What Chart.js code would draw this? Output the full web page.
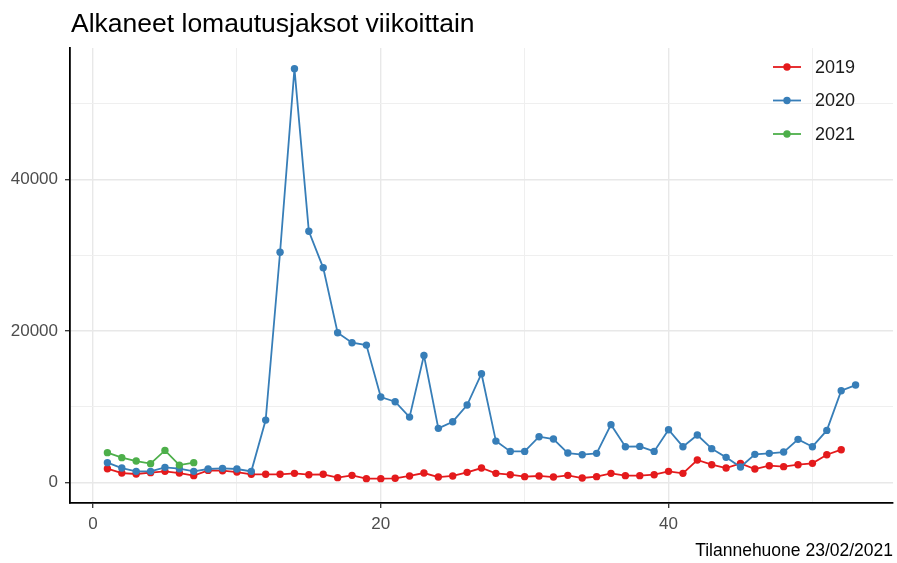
<!DOCTYPE html>
<html>
<head>
<meta charset="utf-8">
<script src="https://cdn.jsdelivr.net/npm/chart.js@4"></script>
<style>
  body { margin: 0; background: #fff; }
</style>
</head>
<body>
<canvas id="lomautukset" width="897" height="563"></canvas>
<script>
const weeks = [1, 2, 3, 4, 5, 6, 7, 8, 9, 10, 11, 12, 13, 14, 15, 16, 17, 18, 19, 20,
    21, 22, 23, 24, 25, 26, 27, 28, 29, 30, 31, 32, 33, 34, 35, 36, 37, 38, 39, 40,
    41, 42, 43, 44, 45, 46, 47, 48, 49, 50, 51, 52, 53];

const years = ['2019', '2020', '2021'];

const values2019 = [1800, 1230, 1100, 1280, 1450, 1230, 880, 1580, 1540, 1360,
    1060, 1060, 1060, 1190, 1010, 1060, 620, 920, 490, 490,
    530, 840, 1230, 700, 840, 1320, 1890, 1190, 1010, 750,
    840, 700, 920, 570, 750, 1190, 880, 880, 1010, 1450,
    1190, 2950, 2330, 1890, 2510, 1760, 2200, 2070, 2330, 2510,
    3650, 4310];

const values2020 = [2600, 1890, 1450, 1450, 1980, 1800, 1450, 1760, 1850, 1760,
    1450, 8220, 30400, 54650, 33170, 28340, 19760, 18440, 18130, 11270,
    10650, 8620, 16770, 7130, 8010, 10210, 14350, 5450, 4090, 4090,
    6030, 5720, 3870, 3650, 3830, 7620, 4710, 4750, 4090, 6950,
    4710, 6250, 4450, 3300, 2020, 3700, 3830, 4000, 5680, 4710,
    6860, 12100, 12850];

const values2021 = [3920, 3260, 2810, 2470, 4220, 2280, 2600];

// major ticks carry labels, minor ones only a grid line
const yTicks = [0, 10000, 20000, 30000, 40000, 50000];
const yTicksShown = [0, 20000, 40000];
const xTicks = [0, 10, 20, 30, 40, 50];
const xTicksShown = [0, 20, 40];

const colors = ['#E41A1C', '#377EB8', '#4DAF4A'];
const FONT = '"Liberation Sans", Arial, sans-serif';

function toPoints(vals) {
    return vals.map((v, i) => ({ x: weeks[i], y: v }));
}

const series = [values2019, values2020, values2021];

const data_chart = {
    datasets: series.map((vals, i) => ({
        label: years[i],
        data: toPoints(vals),
        borderColor: colors[i],
        backgroundColor: colors[i],
        pointBackgroundColor: colors[i],
        pointBorderWidth: 0,
        pointRadius: 3.7,
        borderWidth: 1.8,
        tension: 0,
        order: 3 - i,
    })),
};

// title, caption and the legend inside the panel
const extras = {
    id: 'extras',
    afterDraw(chart) {
        const ctx = chart.ctx;
        ctx.save();
        ctx.fillStyle = '#000';
        ctx.textBaseline = 'alphabetic';
        ctx.textAlign = 'left';
        ctx.font = '26.5px ' + FONT;
        ctx.fillText('Alkaneet lomautusjaksot viikoittain', 71, 31.7);

        ctx.textAlign = 'right';
        ctx.font = '17.5px ' + FONT;
        ctx.fillText('Tilannehuone 23/02/2021', 893, 556);

        ctx.textAlign = 'left';
        ctx.textBaseline = 'middle';
        ctx.font = '18px ' + FONT;
        years.forEach((y, i) => {
            const cy = 67 + i * 33.5;
            ctx.strokeStyle = colors[i];
            ctx.lineWidth = 1.8;
            ctx.beginPath();
            ctx.moveTo(773, cy);
            ctx.lineTo(801, cy);
            ctx.stroke();
            ctx.fillStyle = colors[i];
            ctx.beginPath();
            ctx.arc(787, cy, 3.7, 0, Math.PI * 2);
            ctx.fill();
            ctx.fillStyle = '#1a1a1a';
            ctx.fillText(y, 815, cy + 1);
        });
        ctx.restore();
    }
};

const tickFont = { family: FONT, size: 17 };

function gridOpts(shown) {
    const major = c => c.tick && shown.includes(c.tick.value);
    return {
        color: c => major(c) ? '#e8e8e8' : '#efefef',
        lineWidth: c => major(c) ? 1.4 : 1,
        drawTicks: true,
        tickLength: 5,
        tickWidth: 1.3,
        tickColor: c => major(c) ? '#333' : 'rgba(0,0,0,0)',
    };
}

const config = {
    type: 'line',
    data: data_chart,
    options: {
        responsive: false,
        animation: false,
        layout: { padding: { top: 48, right: 2, left: 0, bottom: 0 } },
        scales: {
            x: {
                type: 'linear',
                min: -1.6,
                max: 55.6,
                afterFit: s => { s.height = 60; },
                afterBuildTicks: s => { s.ticks = xTicks.map(v => ({ value: v })); },
                border: { display: true, color: '#000', width: 1.8 },
                grid: gridOpts(xTicksShown),
                ticks: {
                    autoSkip: false,
                    maxRotation: 0,
                    padding: 6,
                    color: '#4d4d4d',
                    font: tickFont,
                    callback: v => xTicksShown.includes(v) ? String(v) : '',
                },
            },
            y: {
                min: -2730,
                max: 57380,
                afterFit: s => { s.width = 70; },
                afterBuildTicks: s => { s.ticks = yTicks.map(v => ({ value: v })); },
                border: { display: true, color: '#000', width: 1.8 },
                grid: gridOpts(yTicksShown),
                ticks: {
                    autoSkip: false,
                    padding: 7,
                    color: '#4d4d4d',
                    font: tickFont,
                    callback: v => yTicksShown.includes(v) ? String(v) : '',
                },
            },
        },
        plugins: {
            legend: { display: false },
            title: { display: false },
            tooltip: { enabled: false },
        },
    },
    plugins: [extras],
};

window.chart = new Chart(document.getElementById('lomautukset').getContext('2d'), config);
</script>
</body>
</html>
